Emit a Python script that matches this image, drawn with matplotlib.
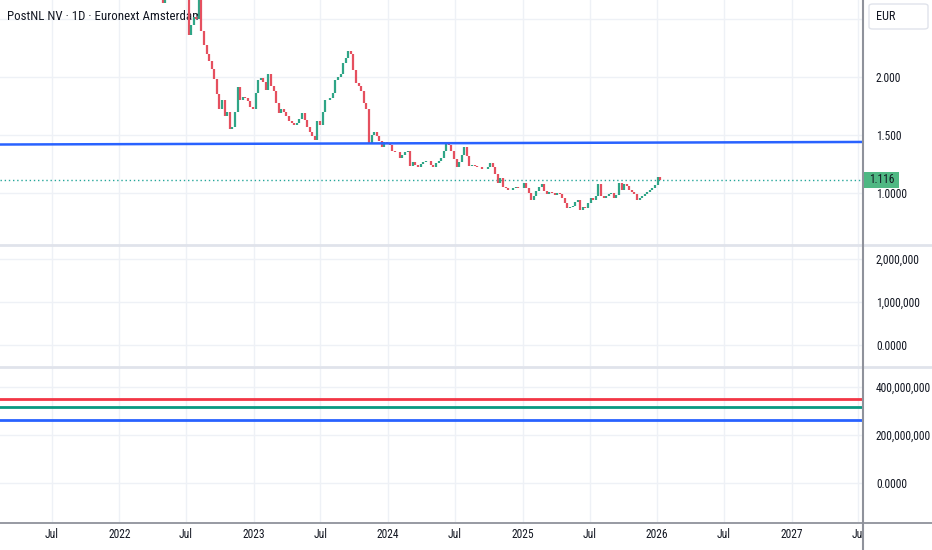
import matplotlib
matplotlib.use("Agg")
import matplotlib.pyplot as plt
import matplotlib.dates as mdates
from matplotlib import font_manager
from matplotlib.lines import Line2D
from matplotlib.patches import FancyBboxPatch, Rectangle
from matplotlib.transforms import Bbox, TransformedBbox, blended_transform_factory
import numpy as np
import pandas as pd

_avail = {f.name for f in font_manager.fontManager.ttflist}
_fam = next((n for n in ["Liberation Sans Narrow", "Roboto Condensed", "Roboto", "Noto Sans"] if n in _avail), "DejaVu Sans")
plt.rcParams['font.family'] = [_fam, 'DejaVu Sans']
NARROW = _fam in ("Liberation Sans Narrow", "Roboto Condensed")

# ---------------- data ----------------
title_text = "PostNL NV · 1D · Euronext Amsterdam"
currency = "EUR"
week_start = "2022-04-22"
closes = [
    2.90, 2.64, 2.85, 2.80, 2.75, 2.80, 2.85, 2.90, 2.85, 2.80,
    2.75, 2.36, 2.45, 2.52, 2.50, 2.75, 2.40, 2.28, 2.20, 2.14,
    2.07, 1.98, 1.85, 1.72, 1.80, 1.66, 1.70, 1.55, 1.57, 1.70,
    1.91, 1.80, 1.83, 1.82, 1.79, 1.74, 1.72, 1.86, 1.97, 1.99,
    1.96, 1.89, 2.03, 1.92, 1.88, 1.78, 1.69, 1.72, 1.70, 1.66,
    1.62, 1.60, 1.59, 1.60, 1.64, 1.69, 1.63, 1.57, 1.53, 1.49,
    1.46, 1.62, 1.59, 1.70, 1.80, 1.80, 1.82, 1.86, 1.97, 2.00,
    2.03, 2.12, 2.16, 2.22, 2.20, 2.06, 1.95, 1.92, 1.88, 1.78,
    1.72, 1.43, 1.50, 1.53, 1.49, 1.45, 1.40, 1.44, 1.43, 1.41,
    1.36, 1.35, 1.35, 1.30, 1.33, 1.35, 1.36, 1.23, 1.27, 1.24,
    1.22, 1.25, 1.27, 1.28, 1.28, 1.24, 1.22, 1.26, 1.28, 1.30,
    1.36, 1.42, 1.41, 1.36, 1.29, 1.22, 1.27, 1.33, 1.40, 1.32,
    1.23, 1.24, 1.23, 1.22, 1.22, 1.21, 1.21, 1.22, 1.26, 1.22,
    1.16, 1.09, 1.13, 1.05, 1.04, 1.03, 1.03, 1.04, 1.05, 1.04,
    1.04, 1.09, 1.04, 1.00, 0.94, 0.97, 1.02, 1.05, 1.08, 1.02,
    0.99, 1.01, 1.00, 0.98, 1.00, 0.99, 0.96, 0.91, 0.87, 0.88,
    0.89, 0.92, 0.94, 0.85, 0.88, 0.87, 0.91, 0.96, 0.94, 0.97,
    1.08, 0.97, 0.96, 0.97, 0.99, 1.00, 0.96, 0.98, 1.09, 1.03,
    1.08, 1.06, 1.03, 1.01, 0.99, 0.94, 0.96, 0.97, 0.99, 1.01,
    1.03, 1.04, 1.07, 1.14, 1.116,
]
last_price = 1.116
trend_dates = ["2021-02-11", "2027-07-11"]
trend_prices = [1.418, 1.440]

price_ticks = [1.0, 1.5, 2.0, 2.5]
price_labels = ["1.0000", "1.500", "2.000", ""]
vol_ticks = [0, 1_000_000, 2_000_000]
vol_labels = ["0.0000", "1,000,000", "2,000,000"]
lvl_ticks = [0, 200_000_000, 400_000_000]
lvl_labels = ["0.0000", "200,000,000", "400,000,000"]
level_values = [350_000_000, 317_000_000, 262_000_000]
level_colors = ["#f23645", "#089981", "#2962ff"]

x_tick_dates = ["2021-07-01", "2022-01-01", "2022-07-01", "2023-01-01", "2023-07-01",
                "2024-01-01", "2024-07-01", "2025-01-01", "2025-07-01", "2026-01-01",
                "2026-07-01", "2027-01-01", "2027-07-01"]
x_tick_labels = ["Jul", "2022", "Jul", "2023", "Jul", "2024", "Jul", "2025", "Jul",
                 "2026", "Jul", "2027", "Jul"]
x_range = ["2021-02-11", "2027-07-11"]

# ---------------- figure ----------------
W, H = 932, 550
fig = plt.figure(figsize=(W / 100, H / 100), dpi=100)
fig.patch.set_facecolor("white")

def fx(px):
    return px / W

def fy(py):
    return 1 - py / H

FS = 8.3 if NARROW else 7.0
TFS = 9.3 if NARROW else 8.0

AX_R = 862
ax1 = fig.add_axes([0, fy(245), fx(AX_R), (245) / H])
ax2 = fig.add_axes([0, fy(366), fx(AX_R), (366 - 246) / H], sharex=ax1)
ax3 = fig.add_axes([0, fy(522), fx(AX_R), (522 - 367) / H], sharex=ax1)

grid_c = "#eef1f6"
text_c = "#131722"
green = "#2fa587"
red = "#e5505f"

xd = mdates.date2num(pd.to_datetime(x_range))
xt = mdates.date2num(pd.to_datetime(x_tick_dates))

for ax in (ax1, ax2, ax3):
    ax.set_facecolor("white")
    for s in ax.spines.values():
        s.set_visible(False)
    ax.yaxis.tick_right()
    ax.tick_params(axis="y", length=0, pad=10, labelsize=FS, labelcolor=text_c)
    ax.tick_params(axis="x", length=0, labelbottom=False)
    ax.set_xticks(xt)
    ax.grid(True, axis="both", color=grid_c, linewidth=1.0)
    ax.set_axisbelow(True)
    ax.set_xlim(xd[0], xd[1])

# price pane
ax1.set_ylim(1.0 - 52 / 116, 1.0 + 193 / 116)
ax1.set_yticks(price_ticks)
ax1.set_yticklabels(price_labels)

# title (drawn under the candles, like the reference)
ax1.text(fx(7), fy(16), title_text, transform=fig.transFigure, ha="left", va="center",
         fontsize=TFS, color=text_c, zorder=2.5)

dates = pd.date_range(week_start, periods=len(closes), freq="7D")
xn = mdates.date2num(dates)
c = np.array(closes)
o = np.r_[c[0], c[:-1]]
lo = np.minimum(o, c)
hi = np.maximum(o, c)
cols = [green if cc >= oo else red for oo, cc in zip(o, c)]
ax1.vlines(xn[1:], lo[1:], hi[1:], colors=cols[1:], linewidth=1.6, zorder=3)

td = mdates.date2num(pd.to_datetime(trend_dates))
ax1.plot(td, trend_prices, color="#2962ff", linewidth=1.8, zorder=4)
ax1.axhline(last_price, color="#26a69a", linewidth=1.0, linestyle=(0, (1, 2)), zorder=2)

# second pane
ax2.set_ylim(-0.49e6, 2.30e6)
ax2.set_yticks(vol_ticks)
ax2.set_yticklabels(vol_labels)

# third pane
ax3.set_ylim(-162.5e6, 483e6)
ax3.set_yticks(lvl_ticks)
ax3.set_yticklabels(lvl_labels)
for v, col in zip(level_values, level_colors):
    ax3.axhline(v, color=col, linewidth=2.0, zorder=3)

# time axis labels (clipped at the price-axis edge)
clip = TransformedBbox(Bbox([[0, -0.5], [1, 1]]), ax3.transAxes)
trans = blended_transform_factory(ax3.transData, fig.transFigure)
for d, lab in zip(xt, x_tick_labels):
    t = fig.text(d, fy(535), lab, transform=trans, ha="center", va="center",
                 fontsize=FS, color=text_c)
    t.set_clip_box(clip)
    t.set_clip_on(True)

# structural lines
fig.add_artist(Line2D([0, 1], [fy(245.5)] * 2, transform=fig.transFigure, color="#e0e3eb", linewidth=2))
fig.add_artist(Line2D([0, 1], [fy(366.5)] * 2, transform=fig.transFigure, color="#e0e3eb", linewidth=2))
fig.add_artist(Line2D([0, 1], [fy(522.5)] * 2, transform=fig.transFigure, color="#8f929b", linewidth=1.3))
fig.add_artist(Line2D([fx(862.5)] * 2, [0, 1], transform=fig.transFigure, color="#8f929b", linewidth=1.5))

# currency box
eur = FancyBboxPatch((fx(869), fy(29)), fx(928) - fx(869), (29 - 4) / H,
                     boxstyle="round,pad=0,rounding_size=0.004", transform=fig.transFigure,
                     facecolor="white", edgecolor="#e0e3eb", linewidth=1.0, zorder=10)
fig.add_artist(eur)
fig.text(fx(876), fy(17), currency, ha="left", va="center", fontsize=FS + 0.5, color=text_c, zorder=11)

# last price label
lp_y = 193 - (last_price - 1.0) * 116
box = Rectangle((fx(864), fy(lp_y + 8)), fx(899) - fx(864), 16 / H, transform=fig.transFigure,
                facecolor="#4fb883", edgecolor="none", zorder=10)
fig.add_artist(box)
fig.text(fx(881.5), fy(lp_y), f"{last_price:.3f}", ha="center", va="center",
         fontsize=FS, color=text_c, zorder=11)

fig.savefig("out.png", dpi=100, facecolor="white")
